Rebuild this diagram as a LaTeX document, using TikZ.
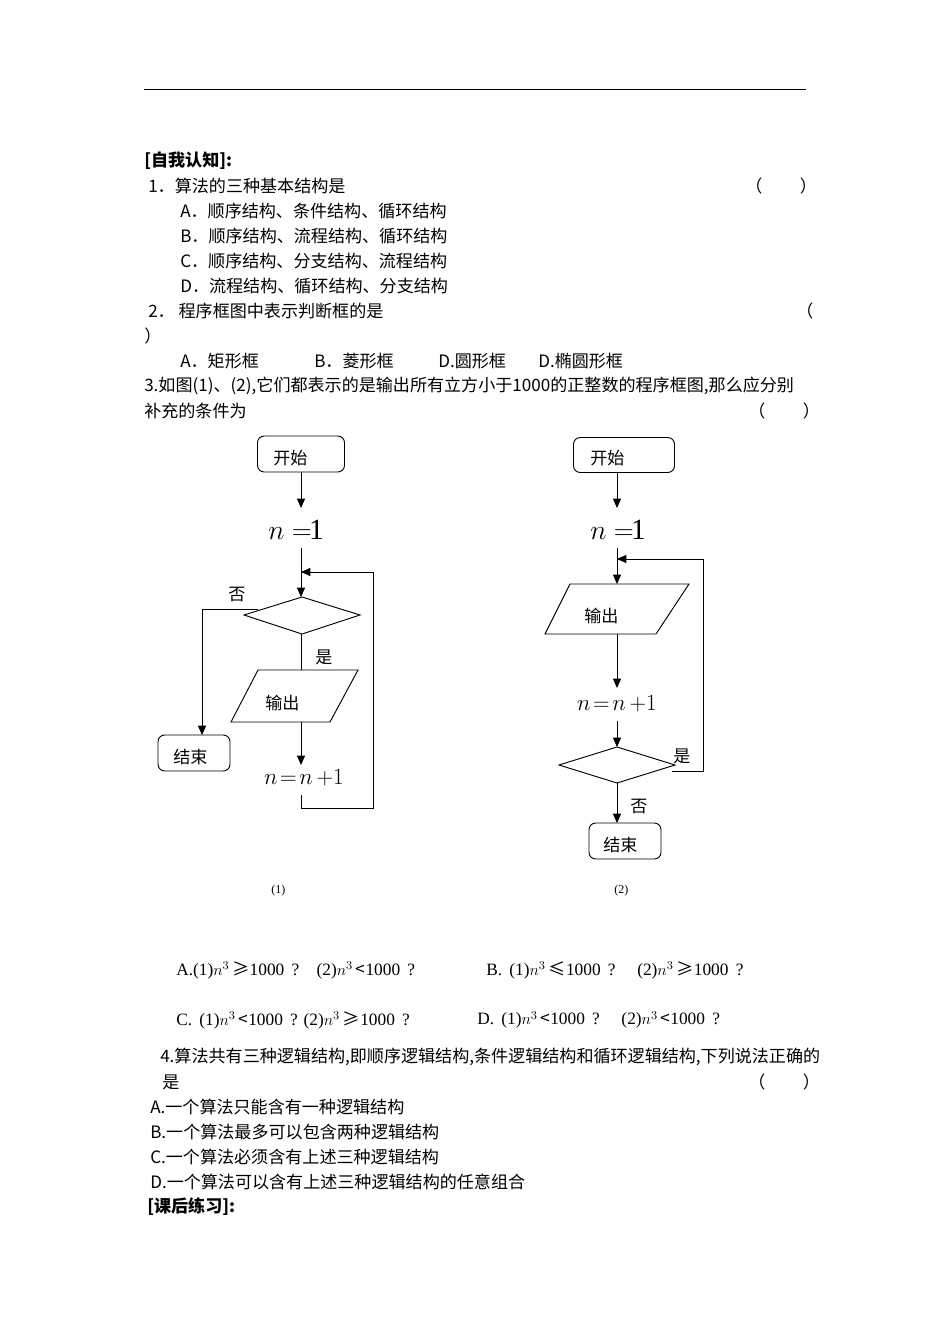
\documentclass[tikz,border=0pt]{standalone}
\usepackage{fontspec}
\setmainfont{Liberation Serif}
\newfontfamily\cjk{Noto Sans CJK SC}
\usetikzlibrary{arrows.meta}
\begin{document}
\begin{tikzpicture}[x=0.75pt,y=-0.75pt,
  t/.style={anchor=west,inner sep=0pt,font=\cjk\fontsize{12.8}{14}\selectfont},
  bt/.style={t,font=\cjk\bfseries\fontsize{12.8}{14}\selectfont},
  ot/.style={anchor=west,inner sep=0pt,font=\fontsize{13}{14}\selectfont},
  ln/.style={line width=0.7pt},
  ar/.style={ln,-{Triangle[length=7pt,width=6pt]}},
  term/.style={draw,ln,rounded corners=5pt,inner sep=0pt},
  big/.style={inner sep=0pt,font=\fontsize{22}{24}\selectfont},
  mid/.style={inner sep=0pt,font=\fontsize{19}{21}\selectfont}]
\useasboundingbox (0,0) rectangle (950,1344);
\fill[white] (0,0) rectangle (950,1344);
\draw[ln] (144,89) -- (806,89);
% text
\node[bt] at (144,161) {[自我认知]:};
\node[t] at (148,186) {1．算法的三种基本结构是};
\node[t] at (745,186) {（\hspace{2.2em}）};
\node[t] at (180,211) {A．顺序结构、条件结构、循环结构};
\node[t] at (180,236) {B．顺序结构、流程结构、循环结构};
\node[t] at (180,261) {C．顺序结构、分支结构、流程结构};
\node[t] at (180,286) {D．流程结构、循环结构、分支结构};
\node[t] at (148,311) {2． 程序框图中表示判断框的是};
\node[t] at (796,311) {（};
\node[t] at (144,336) {）};
\node[t] at (180,361) {A．矩形框};
\node[t] at (314,361) {B．菱形框};
\node[t] at (438,361) {D.圆形框};
\node[t] at (538,361) {D.椭圆形框};
\node[t] at (144,386) {3.如图(1)、(2),它们都表示的是输出所有立方小于1000的正整数的程序框图,那么应分别};
\node[t] at (144,411) {补充的条件为};
\node[t] at (748,411) {（\hspace{2.2em}）};
% chart 1
\node[term,minimum width=87*0.75pt,minimum height=36*0.75pt] (s1) at (301,454) {};
\node[t] at (273,458) {开始};
\node[big] (a1) at (296,530) {$n$ $=$\kern-2pt1};
\draw[ln] (244,615) -- (302,597) -- (360,615) -- (302,634) -- cycle;
\node[t] at (228,594) {否};
\node[t] at (315,657) {是};
\draw[ln] (258,670) -- (358,670) -- (330,722) -- (231,722) -- cycle;
\node[t] at (265,703) {输出};
\node[mid] (b1) at (304,778) {$n\!=\!n\,{+}1$};
\node[term,minimum width=72*0.75pt,minimum height=36*0.75pt] (e1) at (194,753) {};
\node[t] at (173,757) {结束};
\draw[ar] (301,472) -- (301,508);
\draw[ar] (301,548) -- (301,597);
\draw[ln] (301,634) -- (301,670);
\draw[ar] (301,722) -- (301,765);
\draw[ln] (258,609) -- (202,609);
\draw[ar] (202,609) -- (202,735);
\draw[ar] (301,795) -- (301,808) -- (373,808) -- (373,572) -- (301,572);
% chart 2
\node[term,minimum width=101*0.75pt,minimum height=35*0.75pt] (s2) at (624,455) {};
\node[t] at (590,458) {开始};
\node[big] (a2) at (618,530) {$n$ $=$\kern-2pt1};
\draw[ln] (570,584) -- (689,584) -- (656,634) -- (545,634) -- cycle;
\node[t] at (584,616) {输出};
\node[mid] (b2) at (617,704) {$n\!=\!n\,{+}1$};
\draw[ln] (559,765) -- (617,747) -- (675,765) -- (617,783) -- cycle;
\node[t] at (673,756) {是};
\node[t] at (630,806) {否};
\node[term,minimum width=72*0.75pt,minimum height=36*0.75pt] (e2) at (625,841) {};
\node[t] at (603,845) {结束};
\draw[ar] (617,472) -- (617,508);
\draw[ar] (617,548) -- (617,584);
\draw[ar] (617,634) -- (617,688);
\draw[ar] (617,721) -- (617,747);
\draw[ar] (617,783) -- (617,823);
\draw[ar] (672,771) -- (703,771) -- (703,559) -- (617,559);
\node[t,font=\fontsize{9}{10}\selectfont] at (271,891) {(1)};
\node[t,font=\fontsize{9}{10}\selectfont] at (614,891) {(2)};
% options
\node[ot] at (176,970) {A.(1)$n^3$\,{\cjk ≥}1000 \,?\quad (2)$n^3$\,{\cjk <}1000 \,?};
\node[ot] at (486,970) {B.\, (1)$n^3$\,{\cjk ≤}1000 \,?\quad\ (2)$n^3$\,{\cjk ≥}1000 \,?};
\node[ot] at (176,1020) {C.\, (1)$n^3$\,{\cjk <}1000 \,? (2)$n^3$\,{\cjk ≥}1000 \,?};
\node[ot] at (477,1020) {D.\, (1)$n^3$\,{\cjk <}1000 \,?\quad\ (2)$n^3$\,{\cjk <}1000 \,?};
\node[t] at (160,1057) {4.算法共有三种逻辑结构,即顺序逻辑结构,条件逻辑结构和循环逻辑结构,下列说法正确的};
\node[t] at (162,1082) {是};
\node[t] at (748,1082) {（\hspace{2.2em}）};
\node[t] at (150,1107) {A.一个算法只能含有一种逻辑结构};
\node[t] at (150,1132) {B.一个算法最多可以包含两种逻辑结构};
\node[t] at (150,1157) {C.一个算法必须含有上述三种逻辑结构};
\node[t] at (150,1182) {D.一个算法可以含有上述三种逻辑结构的任意组合};
\node[bt] at (147,1207) {[课后练习]:};
\end{tikzpicture}
\end{document}
